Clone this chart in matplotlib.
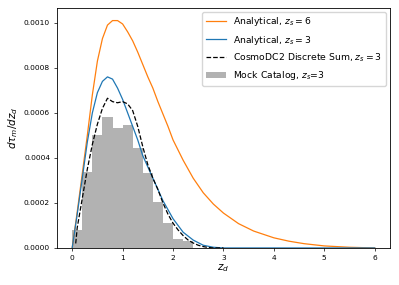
import numpy as np
import matplotlib
matplotlib.use("Agg")
import matplotlib.pyplot as plt

# Analytical z_s = 6
z6 = [0, 0.1, 0.2, 0.3, 0.4, 0.5, 0.6, 0.7, 0.8, 0.9, 1.0, 1.1, 1.2, 1.3, 1.4, 1.5,
      1.6, 1.7, 1.8, 1.9, 2.0, 2.2, 2.4, 2.6, 2.8, 3.0, 3.3, 3.6, 4.0, 4.3, 4.6,
      5.0, 5.5, 6.0]
y6 = [0, 0.00016, 0.00033, 0.00050, 0.00068, 0.00083, 0.00093, 0.00099, 0.00101,
      0.00101, 0.000995, 0.00096, 0.00092, 0.00087, 0.000815, 0.00076, 0.00071,
      0.00065, 0.000595, 0.00054, 0.00048, 0.00039, 0.00031, 0.000245, 0.000195,
      0.000155, 0.000108, 0.000075, 0.000045, 0.00003, 0.000019, 0.000009,
      0.000003, 0.0]

# Analytical z_s = 3
z3 = [0, 0.1, 0.2, 0.3, 0.4, 0.5, 0.6, 0.7, 0.8, 0.9, 1.0, 1.1, 1.2, 1.3, 1.4, 1.5,
      1.6, 1.7, 1.8, 1.9, 2.0, 2.2, 2.4, 2.6, 2.8, 3.0, 3.5, 4.0, 5.0, 6.0]
y3 = [0, 0.00015, 0.00031, 0.00047, 0.00060, 0.00069, 0.00074, 0.00076, 0.00075,
      0.00071, 0.00066, 0.00060, 0.00054, 0.00048, 0.00041, 0.00036, 0.00031,
      0.00026, 0.00021, 0.00017, 0.00013, 0.00007, 0.000035, 0.000012, 0.000003,
      0.0, 0.0, 0.0, 0.0, 0.0]

# CosmoDC2 discrete sum
zd = [0.07, 0.1, 0.2, 0.3, 0.4, 0.5, 0.6, 0.7, 0.8, 0.9, 1.0, 1.1, 1.2, 1.3, 1.4,
      1.5, 1.6, 1.7, 1.8, 1.9, 2.0, 2.1, 2.2, 2.3, 2.4, 2.5, 2.6, 2.7, 2.8, 3.0]
yd = [0.00002, 0.00009, 0.00022, 0.00035, 0.00046, 0.00055, 0.00062, 0.000665,
      0.00065, 0.000645, 0.00065, 0.00064, 0.00061, 0.00054, 0.00045, 0.00037,
      0.00031, 0.00026, 0.00020, 0.00015, 0.00011, 0.00008, 0.000055, 0.000035,
      0.000022, 0.000012, 0.000006, 0.000002, 0.0, 0.0]

# Mock catalog histogram
bin_edges = [0.0, 0.2, 0.4, 0.6, 0.8, 1.0, 1.2, 1.4, 1.6, 1.8, 2.0, 2.2, 2.4]
hist_vals = [0.00008, 0.000336, 0.000502, 0.000581, 0.000533, 0.000545, 0.000444,
             0.000333, 0.000204, 0.000112, 0.0000385, 0.000032]

fig = plt.figure(figsize=(3.99, 2.85), dpi=100)
ax = fig.add_axes([0.143, 0.130, 0.834, 0.842])

centers = [(a + b) / 2 for a, b in zip(bin_edges[:-1], bin_edges[1:])]
ax.plot(z6, y6, color='C1', lw=0.9, label=r'Analytical, $z_s = 6$')
ax.plot(z3, y3, color='C0', lw=0.9, label=r'Analytical, $z_s = 3$')
ax.plot(zd, yd, color='k', lw=0.9, ls='--', label=r'CosmoDC2 Discrete Sum, $z_s = 3$')
ax.hist(centers, bins=bin_edges, weights=hist_vals, color='gray', alpha=0.6,
        label=r'Mock Catalog, $z_s$=3')

ax.set_xlim(-0.3, 6.3)
ax.set_ylim(0, 0.001066)
ax.set_yticks([0, 0.0002, 0.0004, 0.0006, 0.0008, 0.0010])
ax.set_yticklabels(['0.0000', '0.0002', '0.0004', '0.0006', '0.0008', '0.0010'])
ax.tick_params(labelsize=5.4, length=2.5, width=0.5, pad=2.5)
for s in ax.spines.values():
    s.set_linewidth(0.6)
ax.set_xlabel(r'$z_d$', fontsize=7.5, labelpad=1)
ax.set_ylabel(r'$d\tau_m/dz_d$', fontsize=7.5, labelpad=3)
ax.legend(loc='upper right', fontsize=6.7, framealpha=0.8, handlelength=2.2,
          borderaxespad=0.4, labelspacing=0.55)

fig.savefig('out.png', dpi=100)
